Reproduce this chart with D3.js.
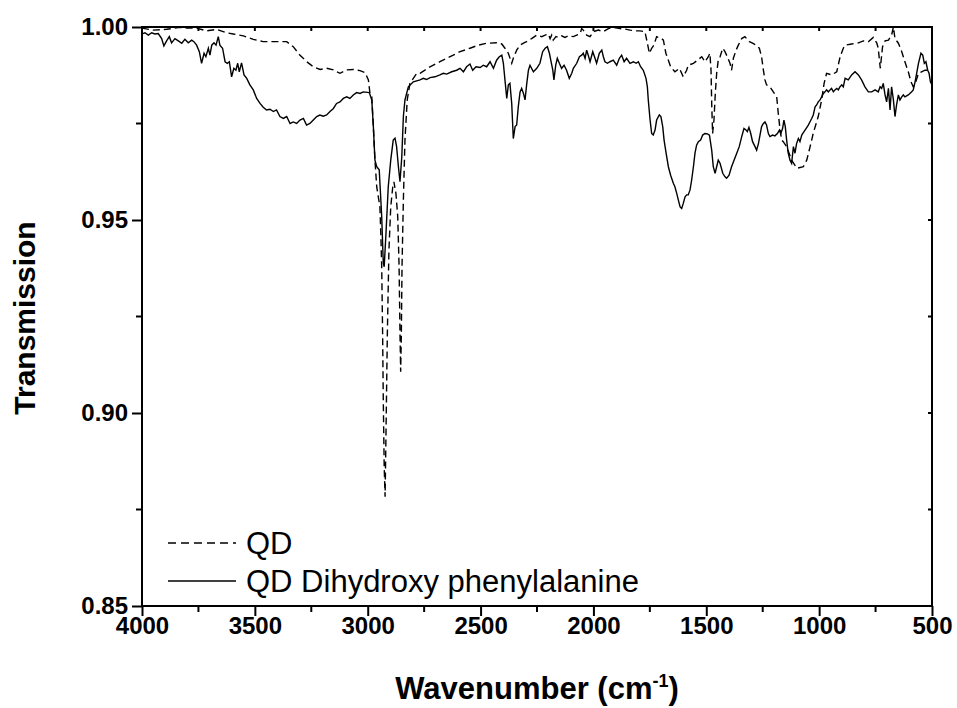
<!DOCTYPE html>
<html>
<head>
<meta charset="utf-8">
<script src="https://cdn.jsdelivr.net/npm/d3@7"></script>
<style>
  body { margin: 0; background: #fff; }
  svg { display: block; }
  text { font-family: "Liberation Sans", Arimo, Arial, sans-serif; }
</style>
</head>
<body>
<div id="chart"></div>
<script>
// FTIR spectra, transmission vs wavenumber
const qdWave = [4000,3950,3891,3832,3802,3758,3713,3669,3625,3596,3551,3507,3463,3403,3359,3330,3300,3270,3241,3211,3182,3152,3123,3093,3064,3034,3012,2997,2990,2982,2975,2968,2960,2953,2946,2942,2938,2934,2931,2927,2923,2919,2913,2906,2898,2889,2884,2875,2867,2861,2857,2854,2851,2848,2842,2835,2825,2813,2783,2768,2724,2680,2635,2591,2547,2510,2473,2429,2406,2392,2377,2362,2355,2340,2325,2310,2296,2274,2251,2229,2214,2200,2192,2185,2178,2166,2155,2141,2126,2111,2089,2074,2059,2052,2045,2030,2015,2000,1978,1956,1934,1912,1882,1853,1838,1816,1794,1772,1761,1752,1742,1732,1720,1698,1690,1679,1668,1658,1639,1619,1602,1587,1580,1557,1535,1520,1506,1491,1484,1479,1476,1472,1466,1460,1454,1447,1439,1427,1417,1407,1395,1388,1380,1368,1358,1343,1329,1309,1295,1280,1265,1255,1247,1240,1233,1218,1203,1188,1181,1173,1166,1159,1144,1122,1099,1070,1055,1040,1026,1004,989,978,967,944,922,907,893,885,856,826,804,782,760,745,738,733,729,723,719,708,693,679,671,664,649,634,620,605,593,583,572,560,546,531,516,500];
const qdTrans = [0.9997,0.9992,0.9994,0.9999,0.9997,0.9997,0.9990,0.9994,0.9985,0.9982,0.9977,0.9968,0.9962,0.9962,0.9962,0.9949,0.9927,0.9910,0.9897,0.9890,0.9893,0.9889,0.9880,0.9889,0.9890,0.9887,0.9882,0.9863,0.9828,0.9819,0.9742,0.9655,0.9586,0.9560,0.9534,0.9466,0.9379,0.9206,0.9034,0.8861,0.8783,0.8947,0.9206,0.9422,0.9534,0.9586,0.9599,0.9569,0.9509,0.9379,0.9206,0.9107,0.9206,0.9379,0.9552,0.9707,0.9811,0.9854,0.9880,0.9880,0.9897,0.9910,0.9923,0.9936,0.9945,0.9953,0.9958,0.9959,0.9956,0.9945,0.9932,0.9906,0.9919,0.9940,0.9953,0.9958,0.9962,0.9970,0.9979,0.9975,0.9979,0.9982,0.9970,0.9979,0.9966,0.9975,0.9973,0.9977,0.9973,0.9977,0.9975,0.9979,0.9983,0.9996,0.9992,0.9979,0.9975,0.9988,0.9992,0.9988,0.9996,0.9999,0.9996,0.9994,0.9992,0.9990,0.9990,0.9988,0.9958,0.9932,0.9945,0.9953,0.9975,0.9970,0.9966,0.9932,0.9914,0.9897,0.9884,0.9893,0.9871,0.9888,0.9901,0.9906,0.9916,0.9923,0.9910,0.9923,0.9932,0.9888,0.9802,0.9724,0.9759,0.9828,0.9880,0.9914,0.9923,0.9945,0.9936,0.9923,0.9906,0.9888,0.9919,0.9940,0.9953,0.9970,0.9975,0.9962,0.9958,0.9953,0.9945,0.9923,0.9888,0.9863,0.9850,0.9845,0.9832,0.9819,0.9776,0.9733,0.9707,0.9703,0.9690,0.9655,0.9634,0.9638,0.9655,0.9690,0.9725,0.9768,0.9811,0.9854,0.9880,0.9876,0.9884,0.9923,0.9945,0.9953,0.9956,0.9959,0.9964,0.9962,0.9973,0.9959,0.9945,0.9914,0.9893,0.9927,0.9949,0.9964,0.9966,0.9979,1.0000,0.9970,0.9958,0.9936,0.9910,0.9884,0.9858,0.9845,0.9858,0.9880,0.9884,0.9888,0.9888,0.9889];

const dopaWave = [4000,3987,3972,3957,3943,3928,3913,3903,3891,3879,3869,3854,3839,3824,3810,3795,3780,3770,3758,3746,3736,3725,3717,3706,3699,3691,3681,3672,3662,3655,3643,3632,3622,3613,3603,3593,3584,3576,3569,3559,3548,3536,3522,3507,3492,3477,3463,3448,3433,3418,3404,3389,3374,3359,3344,3330,3315,3300,3285,3271,3256,3241,3226,3212,3197,3182,3167,3152,3138,3123,3108,3093,3079,3064,3049,3034,3020,2993,2982,2975,2968,2960,2949,2938,2931,2927,2919,2909,2898,2887,2879,2872,2864,2857,2849,2842,2835,2820,2798,2768,2754,2739,2724,2702,2680,2665,2650,2628,2606,2591,2576,2562,2547,2535,2520,2502,2488,2473,2458,2443,2429,2417,2406,2399,2392,2384,2377,2370,2362,2355,2347,2340,2333,2325,2318,2310,2303,2296,2288,2281,2266,2251,2237,2225,2214,2204,2195,2189,2180,2175,2167,2160,2151,2141,2130,2119,2107,2096,2089,2074,2062,2052,2045,2037,2030,2023,2015,2003,1993,1986,1974,1963,1956,1949,1938,1927,1912,1897,1885,1875,1864,1853,1838,1823,1811,1801,1791,1779,1767,1761,1757,1749,1742,1735,1727,1720,1708,1701,1693,1687,1678,1668,1658,1646,1639,1631,1624,1616,1609,1602,1594,1587,1580,1572,1565,1557,1550,1543,1535,1525,1516,1506,1495,1486,1476,1469,1461,1454,1447,1439,1427,1417,1410,1399,1388,1377,1365,1354,1343,1333,1324,1318,1311,1303,1295,1284,1277,1269,1262,1255,1247,1240,1233,1225,1218,1206,1196,1185,1176,1170,1162,1156,1150,1144,1137,1129,1122,1114,1107,1100,1092,1085,1077,1067,1058,1048,1041,1033,1026,1018,1011,1004,996,989,981,974,967,959,952,945,937,930,922,915,908,900,893,885,871,856,841,826,812,797,782,767,752,738,730,723,716,708,701,693,686,679,671,664,657,649,642,634,627,620,605,590,583,575,568,560,549,541,534,527,519,513,507,500];
const dopaTrans = [0.9982,0.9985,0.9979,0.9985,0.9982,0.9983,0.9970,0.9951,0.9964,0.9975,0.9959,0.9970,0.9964,0.9958,0.9968,0.9959,0.9966,0.9962,0.9953,0.9936,0.9906,0.9932,0.9923,0.9945,0.9927,0.9953,0.9959,0.9953,0.9975,0.9953,0.9945,0.9910,0.9906,0.9910,0.9871,0.9893,0.9888,0.9906,0.9884,0.9907,0.9876,0.9867,0.9850,0.9837,0.9815,0.9802,0.9792,0.9785,0.9787,0.9781,0.9785,0.9768,0.9763,0.9768,0.9750,0.9754,0.9750,0.9759,0.9763,0.9746,0.9750,0.9759,0.9768,0.9772,0.9769,0.9772,0.9781,0.9789,0.9802,0.9806,0.9815,0.9819,0.9815,0.9824,0.9830,0.9828,0.9832,0.9830,0.9811,0.9742,0.9655,0.9638,0.9630,0.9509,0.9388,0.9379,0.9466,0.9586,0.9655,0.9707,0.9712,0.9690,0.9638,0.9599,0.9664,0.9768,0.9811,0.9845,0.9858,0.9863,0.9867,0.9864,0.9869,0.9871,0.9876,0.9880,0.9878,0.9884,0.9888,0.9893,0.9884,0.9897,0.9904,0.9888,0.9897,0.9895,0.9901,0.9897,0.9910,0.9893,0.9914,0.9923,0.9927,0.9906,0.9863,0.9815,0.9850,0.9854,0.9802,0.9711,0.9742,0.9746,0.9793,0.9832,0.9841,0.9828,0.9811,0.9850,0.9888,0.9901,0.9884,0.9893,0.9906,0.9936,0.9945,0.9949,0.9932,0.9914,0.9888,0.9863,0.9901,0.9919,0.9906,0.9893,0.9901,0.9888,0.9867,0.9880,0.9893,0.9906,0.9923,0.9927,0.9932,0.9919,0.9940,0.9927,0.9910,0.9936,0.9919,0.9906,0.9932,0.9940,0.9923,0.9910,0.9906,0.9910,0.9914,0.9901,0.9919,0.9927,0.9910,0.9919,0.9906,0.9910,0.9906,0.9910,0.9897,0.9888,0.9867,0.9845,0.9811,0.9759,0.9724,0.9720,0.9733,0.9759,0.9772,0.9768,0.9742,0.9707,0.9673,0.9638,0.9616,0.9595,0.9586,0.9569,0.9552,0.9534,0.9530,0.9543,0.9560,0.9565,0.9565,0.9578,0.9603,0.9638,0.9673,0.9694,0.9703,0.9707,0.9720,0.9724,0.9723,0.9720,0.9681,0.9638,0.9621,0.9638,0.9655,0.9647,0.9621,0.9612,0.9608,0.9616,0.9638,0.9655,0.9673,0.9690,0.9716,0.9737,0.9733,0.9729,0.9740,0.9724,0.9703,0.9690,0.9681,0.9698,0.9720,0.9742,0.9750,0.9754,0.9746,0.9724,0.9716,0.9720,0.9718,0.9724,0.9733,0.9724,0.9737,0.9759,0.9742,0.9707,0.9673,0.9655,0.9647,0.9690,0.9673,0.9698,0.9711,0.9703,0.9720,0.9729,0.9737,0.9746,0.9754,0.9763,0.9772,0.9793,0.9798,0.9806,0.9811,0.9819,0.9828,0.9832,0.9837,0.9832,0.9837,0.9841,0.9832,0.9837,0.9841,0.9837,0.9845,0.9850,0.9845,0.9867,0.9863,0.9876,0.9884,0.9876,0.9863,0.9845,0.9832,0.9832,0.9837,0.9832,0.9845,0.9841,0.9854,0.9824,0.9806,0.9841,0.9785,0.9845,0.9811,0.9768,0.9798,0.9824,0.9811,0.9819,0.9824,0.9819,0.9824,0.9832,0.9837,0.9858,0.9880,0.9906,0.9932,0.9927,0.9906,0.9910,0.9888,0.9880,0.9858,0.9850];

const xTicks = [4000, 3500, 3000, 2500, 2000, 1500, 1000, 500];
const yTicks = [0.85, 0.90, 0.95, 1.00];
const seriesNames = ["QD", "QD Dihydroxy phenylalanine"];

const W = 957, H = 708;
const margin = { top: 27, right: 25, bottom: 102, left: 142 };

const svg = d3.select("#chart").append("svg")
    .attr("width", W)
    .attr("height", H);

const x = d3.scaleLinear().domain([4000, 500]).range([margin.left, W - margin.right]);
const y = d3.scaleLinear().domain([0.85, 1.00]).range([H - margin.bottom, margin.top]);

const minorX = d3.range(4000, 499, -250);
const minorY = d3.range(0, 7).map(i => 0.85 + i * 0.025);

svg.append("clipPath").attr("id", "plot")
    .append("rect")
    .attr("x", x(4000)).attr("y", y(1.00) - 1)
    .attr("width", x(500) - x(4000)).attr("height", y(0.85) - y(1.00) + 1);

const line = d3.line()
    .x(d => x(d[0]))
    .y(d => y(d[1]));

const qd = qdWave.map((w, i) => [w, qdTrans[i]]);
const dopa = dopaWave.map((w, i) => [w, dopaTrans[i]]);

svg.append("path")
    .datum(qd)
    .attr("clip-path", "url(#plot)")
    .attr("fill", "none")
    .attr("stroke", "#000")
    .attr("stroke-width", 1.4)
    .attr("stroke-dasharray", "7,4")
    .attr("d", line);

svg.append("path")
    .datum(dopa)
    .attr("clip-path", "url(#plot)")
    .attr("fill", "none")
    .attr("stroke", "#000")
    .attr("stroke-width", 1.4)
    .attr("d", line);

// axes: outward ticks bottom/left, short inward ticks top/right
const fmtY = d3.format(".2f");
const bottom = svg.append("g")
    .attr("transform", `translate(0,${y(0.85)})`)
    .call(d3.axisBottom(x).tickValues(xTicks).tickSize(10).tickPadding(1).tickFormat(d3.format("d")));
const left = svg.append("g")
    .attr("transform", `translate(${x(4000)},0)`)
    .call(d3.axisLeft(y).tickValues(yTicks).tickSize(10).tickPadding(4).tickFormat(fmtY));

[bottom, left].forEach(g => {
    g.select(".domain").remove();
    g.selectAll("line").attr("stroke", "#000").attr("stroke-width", 2);
    g.selectAll("text")
        .attr("fill", "#000")
        .style("font-size", "24px")
        .style("font-weight", "bold");
});

svg.append("g").selectAll("line")
    .data(minorX.filter(d => !xTicks.includes(d)))
    .join("line")
    .attr("x1", d => x(d)).attr("x2", d => x(d))
    .attr("y1", y(0.85)).attr("y2", y(0.85) + 6)
    .attr("stroke", "#000").attr("stroke-width", 2);

svg.append("g").selectAll("line")
    .data(minorY.filter((d, i) => i % 2 === 1))
    .join("line")
    .attr("x1", x(4000) - 6).attr("x2", x(4000))
    .attr("y1", d => y(d)).attr("y2", d => y(d))
    .attr("stroke", "#000").attr("stroke-width", 2);

svg.append("g").selectAll("line")
    .data(minorX)
    .join("line")
    .attr("x1", d => x(d)).attr("x2", d => x(d))
    .attr("y1", y(1.00)).attr("y2", y(1.00) + 4)
    .attr("stroke", "#000").attr("stroke-width", 2);

svg.append("g").selectAll("line")
    .data(minorY)
    .join("line")
    .attr("x1", x(500) - 4).attr("x2", x(500))
    .attr("y1", d => y(d)).attr("y2", d => y(d))
    .attr("stroke", "#000").attr("stroke-width", 2);

// frame
svg.append("rect")
    .attr("x", x(4000)).attr("y", y(1.00))
    .attr("width", x(500) - x(4000)).attr("height", y(0.85) - y(1.00))
    .attr("fill", "none")
    .attr("stroke", "#000")
    .attr("stroke-width", 2);

// axis titles
svg.append("text")
    .attr("transform", `translate(35,318) rotate(-90)`)
    .attr("text-anchor", "middle")
    .style("font-size", "30px")
    .style("font-weight", "bold")
    .text("Transmission");

const xt = svg.append("text")
    .attr("x", (x(4000) + x(500)) / 2)
    .attr("y", 699)
    .attr("text-anchor", "middle")
    .style("font-size", "31px")
    .style("font-weight", "bold");
xt.append("tspan").text("Wavenumber (cm");
xt.append("tspan").attr("dy", -12).style("font-size", "18px").text("-1");
xt.append("tspan").attr("dy", 12).text(")");

// legend
const legend = svg.append("g");
const rows = legend.selectAll("g")
    .data(seriesNames)
    .join("g")
    .attr("transform", (d, i) => `translate(168,${543 + i * 38})`);
rows.append("line")
    .attr("x1", 0).attr("x2", 68)
    .attr("stroke", "#000")
    .attr("stroke-width", 1.4)
    .attr("stroke-dasharray", (d, i) => i === 0 ? "8,5" : null);
rows.append("text")
    .attr("x", 78)
    .attr("dy", "0.36em")
    .style("font-size", "31px")
    .text(d => d);
</script>
</body>
</html>
